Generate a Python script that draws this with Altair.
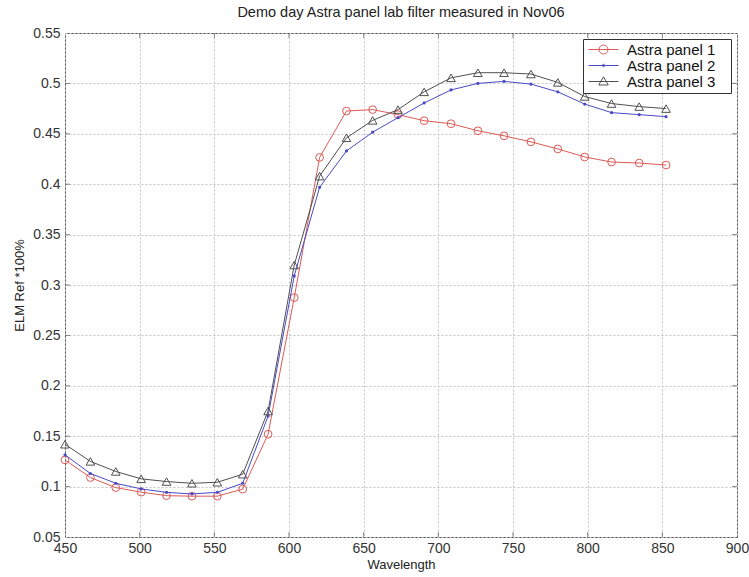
import altair as alt
import pandas as pd

# Measured reflectance of three Astra panels across the filter bands
wavelength = [450, 467, 484, 501, 518, 535, 552, 569, 586, 603.5, 620.5, 638.5,
              656, 673, 690.5, 708.5, 726.5, 744, 762, 780, 798, 816, 834.5, 852.5]
panel1 = [0.1265, 0.109, 0.099, 0.0945, 0.091, 0.0905, 0.0905, 0.0975, 0.152, 0.2875,
          0.4266, 0.4726, 0.474, 0.469, 0.463, 0.460, 0.453, 0.448, 0.442, 0.435,
          0.427, 0.422, 0.421, 0.419]
panel2 = [0.1315, 0.113, 0.1033, 0.0977, 0.0943, 0.0927, 0.0943, 0.1033, 0.170, 0.309,
          0.397, 0.433, 0.4516, 0.466, 0.4806, 0.4935, 0.500, 0.502, 0.4993, 0.4916,
          0.4795, 0.471, 0.469, 0.467]
panel3 = [0.142, 0.125, 0.115, 0.1077, 0.105, 0.1033, 0.1043, 0.1123, 0.175, 0.3198,
          0.408, 0.446, 0.4633, 0.474, 0.4916, 0.5055, 0.5106, 0.5106, 0.5093, 0.501,
          0.487, 0.480, 0.477, 0.475]

series_names = ["Astra panel 1", "Astra panel 2", "Astra panel 3"]
series_colors = ["#dc5a55", "#4a4ac8", "#505050"]
x_ticks = [450, 500, 550, 600, 650, 700, 750, 800, 850, 900]
y_ticks = [0.05, 0.1, 0.15, 0.2, 0.25, 0.3, 0.35, 0.4, 0.45, 0.5, 0.55]

# Legend glyphs: a short line with the series marker in its middle
# (the leading/trailing moves only widen the entry's box)
legend_paths = [
    "M-2,0M26.4,0M-1,0H5M1.1,0A0.9,0.9 0 1,0 2.9,0A0.9,0.9 0 1,0 1.1,0",
    "M-2,0M26.4,0M-1,0H5M1.75,0A0.25,0.25 0 1,0 2.25,0A0.25,0.25 0 1,0 1.75,0",
    "M-2,0M26.4,0M-1,0H5M2,-0.95L2.95,0.7L1.05,0.7Z",
]
marker_shapes = ["circle", "circle", "triangle-up"]
marker_filled = [False, True, False]
marker_sizes = [60, 10, 75]

FONT = "Liberation Sans"

rows = []
for name, vals in zip(series_names, [panel1, panel2, panel3]):
    for w, v in zip(wavelength, vals):
        rows.append({"wavelength": w, "ref": v, "series": name})
df = pd.DataFrame(rows)

x_lo, x_hi = x_ticks[0], x_ticks[-1]
y_lo, y_hi = y_ticks[0], y_ticks[-1]

x_enc = alt.X("wavelength:Q",
              scale=alt.Scale(domain=[x_lo, x_hi], nice=False, zero=False),
              axis=alt.Axis(values=x_ticks, title="Wavelength", labelFlush=False,
                            labelPadding=4, titlePadding=3))
y_enc = alt.Y("ref:Q",
              scale=alt.Scale(domain=[y_lo, y_hi], nice=False, zero=False),
              axis=alt.Axis(values=y_ticks, format="~g", title="ELM Ref *100%",
                            labelPadding=5, titlePadding=6))

base = alt.Chart(df)

# One line and one marker layer per series
series_layers = []
for name, col, shape, filled, size in zip(series_names, series_colors, marker_shapes,
                                          marker_filled, marker_sizes):
    sub = base.transform_filter(alt.datum.series == name)
    series_layers.append(sub.mark_line(strokeWidth=1, color=col).encode(x=x_enc, y=y_enc))
    series_layers.append(
        sub.mark_point(shape=shape, filled=filled, size=size, strokeWidth=1,
                       opacity=1, color=col).encode(x=x_enc, y=y_enc)
    )

leg = alt.Legend(title=None, orient="top-right", offset=6, padding=3,
                 fillColor="white", strokeColor="#333",
                 labelFont=FONT, labelFontSize=15, labelColor="#111",
                 labelOffset=26, rowPadding=0, symbolSize=100,
                 symbolStrokeWidth=1, symbolOpacity=1)
legend_layer = base.mark_point(filled=False, opacity=0, size=100).encode(
    x=x_enc, y=y_enc,
    color=alt.Color("series:N",
                    scale=alt.Scale(domain=series_names, range=series_colors),
                    legend=leg),
    shape=alt.Shape("series:N",
                    scale=alt.Scale(domain=series_names, range=legend_paths),
                    legend=leg),
)

# Inward tick marks on all four sides of the frame
inner_x = x_ticks[1:-1]
inner_y = y_ticks[1:-1]
tick_bottom = alt.Chart(pd.DataFrame({"wavelength": inner_x, "ref": [y_lo] * len(inner_x)})) \
    .mark_tick(orient="vertical", size=5, thickness=1, yOffset=-2.5, color="#555") \
    .encode(x=x_enc, y=y_enc)
tick_top = alt.Chart(pd.DataFrame({"wavelength": inner_x, "ref": [y_hi] * len(inner_x)})) \
    .mark_tick(orient="vertical", size=5, thickness=1, yOffset=2.5, color="#555") \
    .encode(x=x_enc, y=y_enc)
tick_left = alt.Chart(pd.DataFrame({"wavelength": [x_lo] * len(inner_y), "ref": inner_y})) \
    .mark_tick(orient="horizontal", size=5, thickness=1, xOffset=2.5, color="#555") \
    .encode(x=x_enc, y=y_enc)
tick_right = alt.Chart(pd.DataFrame({"wavelength": [x_hi] * len(inner_y), "ref": inner_y})) \
    .mark_tick(orient="horizontal", size=5, thickness=1, xOffset=-2.5, color="#555") \
    .encode(x=x_enc, y=y_enc)

chart = alt.layer(
    *series_layers, legend_layer, tick_bottom, tick_top, tick_left, tick_right
).properties(
    width=672,
    height=504,
    padding={"left": 65, "top": 33, "right": 12, "bottom": 40},
    autosize=alt.AutoSizeParams(type="none"),
    title=alt.TitleParams("Demo day Astra panel lab filter measured in Nov06",
                          font=FONT, fontSize=14.5, fontWeight="normal",
                          color="#222", offset=6, anchor="middle"),
).configure_view(
    stroke="#555", strokeWidth=1
).configure_axis(
    grid=True, gridDash=[2, 2], gridColor="#c4c4c4", gridWidth=1,
    domain=False, ticks=False,
    labelFont=FONT, labelFontSize=14, labelColor="#333",
    titleFont=FONT, titleFontSize=13, titleFontWeight="normal", titleColor="#222",
)

chart.save("out.html", embed_options={"renderer": "svg", "actions": False})
